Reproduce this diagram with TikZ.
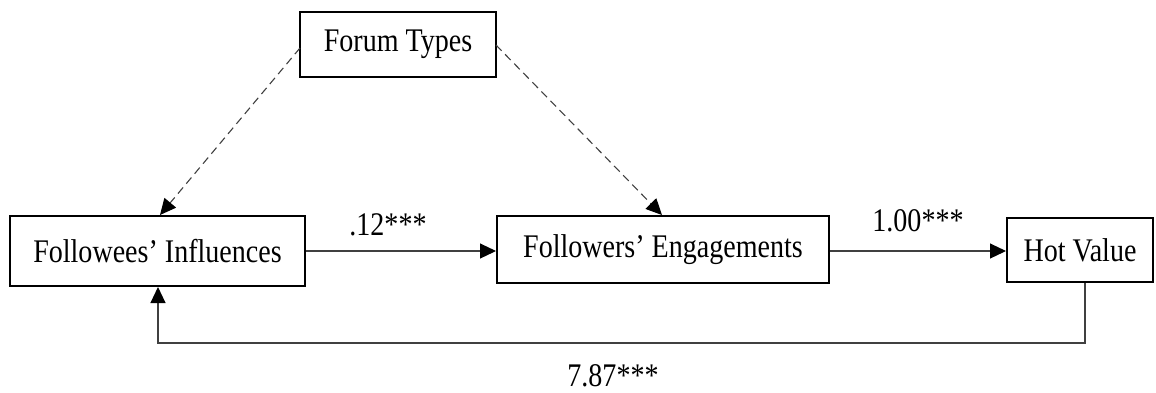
\documentclass[tikz,border=0pt]{standalone}
\usepackage{fontspec}
\setmainfont{Liberation Serif}
\usetikzlibrary{arrows.meta}
\newcommand\hsq[1]{\scalebox{0.85}[1]{#1}}
\tikzset{tip/.tip={Triangle[length=16pt,width=15pt,color=black,fill=black]}}
\begin{document}
\begin{tikzpicture}[x=1pt,y=-1pt,
  box/.style={draw,line width=2pt,inner sep=0pt,font=\fontsize{33}{38}\selectfont},
  lbl/.style={inner sep=0pt,font=\fontsize{33}{38}\selectfont},
  conn/.style={line width=1.1pt,draw=black!75,-tip},
  dconn/.style={conn,dash pattern=on 8pt off 5pt}]
\useasboundingbox (0,0) rectangle (1156,392);
\node[box,minimum width=196pt,minimum height=65pt] (ft) at (398,44.5) {\hsq{Forum Types}};
\node[box,minimum width=295pt,minimum height=70pt] (fi) at (157.5,251) {\hsq{Followees' Influences}};
\node[box,minimum width=332pt,minimum height=67pt] (fe) at (663,249.5) {\hsq{Followers' Engagements}};
\node[box,minimum width=146pt,minimum height=64pt] (hv) at (1080,250) {\hsq{Hot Value}};
\coordinate (ftl) at (300,48);
\coordinate (ftr) at (496,45);
\draw[dconn] (ftl) -- (fi.north -| 160,0);
\draw[dconn] (ftr) -- (fe.north -| 662,0);
\draw[conn] (fi.east |- 0,251) -- (fe.west |- 0,251);
\draw[conn] (fe.east |- 0,251) -- (hv.west |- 0,251);
\coordinate (c1) at (1085,343);
\coordinate (c2) at (158,343);
\draw[conn] (hv.south -| c1) -- (c1) -- (c2) -- (fi.south -| c2);
\node[lbl] (l1) at (388,225) {\hsq{.12***}};
\node[lbl] (l2) at (918,221) {\hsq{1.00***}};
\node[lbl] (l3) at (613,376) {\hsq{7.87***}};
\end{tikzpicture}
\end{document}
